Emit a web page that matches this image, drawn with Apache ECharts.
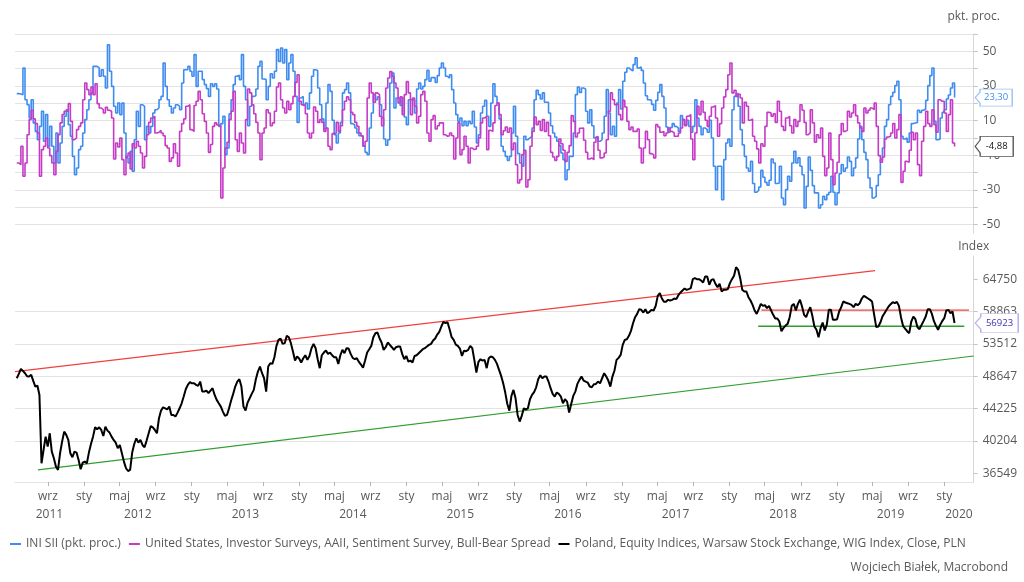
<!DOCTYPE html>
<html>
<head>
<meta charset="utf-8">
<script src="https://cdn.jsdelivr.net/npm/echarts@6/dist/echarts.min.js"></script>
<style>html,body{margin:0;padding:0;background:#fff}#chart{width:1024px;height:582px}</style>
</head>
<body>
<div id="chart"></div>
<script>
// Weekly observations starting on this date
const firstWeek = '2011-05-18';

// INI SII (pkt. proc.)
const iniSii = [
25.6,25.4,25,40.4,22.1,19.2,11.5,22.1,8.7,3.8,
-1,6.7,15.4,-1.9,13.5,-4.8,6.7,-4.8,-14.4,2.9,
-14.4,-2.9,6.7,12.5,16.3,7.7,1,-10.6,-21.2,-17.3,
-6.7,-4.8,2.9,10.6,16.3,22.1,26,41.3,41.3,40.4,
35.6,39.4,35.6,28.8,53.8,38.5,29.8,18.3,14.4,20.2,
13.5,20.2,2.9,-11.5,-14.4,-7.7,-19.2,-1,15.4,6.7,
19.2,18.3,-1,6.7,2.9,6.7,14.4,16.3,17.3,22.1,
24,43.3,29.8,22.1,18.3,14.4,17.3,19.2,18.3,16.3,
31.7,39.4,39.4,41.3,38.5,35.6,48.1,29.8,38.5,
38.5,33.7,30.8,28.5,24,31.3,29.8,31.3,28.3,6.7,
8.3,12.5,-9.6,-5.8,14,22.1,30.8,35.6,36.2,33.7,
48.1,29.8,22.1,7.1,18.3,24,24.4,28.3,41.3,44.2,
34,33.7,22.1,29.8,37.1,34.6,38.5,51,44.2,51.9,
43.3,51,33.7,43.3,48.1,38.5,24,9,23.1,24,
18.7,20.2,16.7,26,35.6,39.4,39,28.8,19.2,11,
5.2,20.2,30.8,26.9,10.2,1.9,-2.9,2.9,9,26,
27.9,31.7,26,8.3,7.5,5.8,2.9,1.3,1,-4.8,
-8.3,-9.6,5.8,14.4,25,22.1,23.7,19.2,11.5,-0.6,
-4.2,-1,31.7,37.5,17.3,23.1,22.9,18.7,23.1,12.1,
7.7,22.1,22.1,22.1,14.4,28.3,31.7,28.3,29.8,33.7,
39,32.7,34.8,34.8,32.1,36,40.4,43.3,40.4,35.6,
34.6,36.5,27.9,20.2,13.5,9.6,11.5,7.1,9.6,7.1,
9.6,8.3,15.4,6.3,-2.9,1.9,14.4,18.3,21.7,12.5,
6.7,20.2,31.3,24,20.2,11,-4.8,-7.7,-10.6,-12.9,
-10.6,2.9,
18.3,1,-9,-14.4,-16.3,1,-1,0,1,5.8,
22.1,27.5,25,22.5,26,20.6,20.6,14.4,7.1,2.9,
0.6,-1.9,-4.4,-8.7,-12.5,-24,-18.3,-10.6,-10.6,2.9,
25,29.4,26.3,28.8,28.3,15.4,8.7,16.3,7.1,0,
1,-1.9,-1,2.9,12.5,27.9,14.4,1.9,6.7,1,
20.2,27.9,16.7,32.7,37.9,40.4,39.4,38.7,42.3,46.2,
40.4,41,39,31.7,24.4,22.1,21.7,19.4,16,21.7,
26.3,30.8,24,17.3,6.3,3.3,6,8.3,6.7,5.8,
3.8,12.9,10.6,7.7,10.2,6.7,3.3,6.7,22.1,11.5,
6.7,1.9,5.8,4.8,3.3,10.2,0,-16.3,-29.8,-16.3,
-16.3,-35.6,-12.5,-2.9,-0.6,-4.8,16.3,24,25.6,18.3,
4.8,-4,-10.6,-17.3,-19.2,-13.5,-26.3,-31.3,-30.2,-28.3,
-18.7,-22.7,-25.6,-27.3,-24.4,-12.1,-14.4,-26.3,-26,-16.3,
-34.6,-38.5,-29.8,-22.1,-25,-14.4,-7.7,-14.4,-11.5,-16.3,
-21.2,-40.4,-27.9,-11,-18.7,-27.5,-31.7,-31.7,-40.4,-38.5,
-33.7,-35.6,-32.7,-31.3,-22.1,-31.3,-38.5,-31.7,-20.6,-15.4,
-19.2,-17.3,-11,-13.5,-21.7,-17.3,-11.5,-0.6,6.7,-1,
-8.3,-12.5,-23.1,-28.8,-34.6,-33.7,-27.5,-21.2,-12.5,-5.8,
6.7,10.6,19.2,24,26.3,30.2,32.7,22.1,1,-0.6,
0,-2.5,2.9,8.3,8.7,9,16,14.8,16,16.7,
21.7,30.2,36,40.4,9.6,-1,-0.6,11.5,14.8,16.3,
22.5,24.8,28.8,31.7,23.3
];

// United States, Investor Surveys, AAII, Sentiment Survey, Bull-Bear Spread
const aaii = [
-14.4,-15.4,-4.8,-22.1,-14.4,1.9,10.6,16,11,8.3,
2.9,-22.1,-6.7,-4.8,0,-5.8,-10.2,-14.4,-21.2,-7.7,
1.9,8.7,13.5,15.4,15.4,19.8,9.6,-1,0,4.8,
6.7,8.7,22.1,31.7,27.9,25,29.4,25,31.3,19.8,
17.3,16.3,14.4,17.7,16,15.4,11.5,-12.1,-2.9,-5.2,
0,-12.5,-21.2,-10.6,-8.7,-17.9,-3.3,-5.8,-1.9,-4.8,
-8.7,-17.3,-10.6,1.9,9,11.5,12.5,2.9,3.3,4.4,
2.9,1.3,-4.4,-5.8,-13.5,-11.5,-3.3,-8.7,-16.3,3.8,
8.3,11,18.3,19.2,4.8,3.8,18.7,21.2,26.9,22.1,
14,9.6,2.9,-8.3,-3.8,6.7,8.7,7.5,6.7,-34.6,
-17.3,-5.8,-2.5,10.6,15.4,26.9,-1,-7.7,2.9,-2.9,
-8.7,10.6,28.3,26,19.2,14,9,2.9,-12.5,2.9,
5.8,16.3,14.4,7.1,8.7,15.4,29.4,31.7,22.1,17.3,
14.4,21.2,16.3,19.8,24,32.1,36.5,21.2,19.2,18.7,
14,2.9,0,2.9,17.9,15.4,9,10.6,9,3.8,
5.8,-4.8,-6.7,2.5,2.9,9,3.8,7.1,16.3,21.2,
23.7,22.1,14.8,13.5,9,6.7,2.9,1.3,-4.8,-1.9,
23.1,31.7,26,20.6,26,25,12.5,7.1,16.3,28.8,
34.6,38.3,35.6,31.7,28.8,20.2,23.7,13.5,25,32.5,
26,13.5,23.1,18.3,8.7,12.5,25,26.9,21.2,2.9,
-1.9,10.6,12.9,5.2,7.1,8.7,8.7,1.9,1,1.3,
2.9,1.3,-12.1,0,8.7,-9.6,-6.7,1,-4.8,-14.4,
-5.8,-6.7,-6.3,-4.8,0,8.7,11.5,12.5,-6.7,4.4,
3.8,8.7,18.7,20.2,13.5,1.9,4.2,6.3,3.3,5.8,
-6.7,
-2.9,-15.4,-26,-24,-9.6,-7.1,-28.3,-24,-4.8,3.8,
12.1,7.7,9.6,4.4,10.6,3.8,9,1.3,-8.3,-11,
-12.9,-10.6,-0.6,-3.3,-7.1,-13.5,-8.3,-4.4,12.9,9.6,
0.6,2.9,5.6,5.8,-1.3,-8.3,-12.1,-11.5,-12.5,-2.5,
0.6,-7.1,-11.5,-11,-8.7,-1,15.4,26,22.1,19.2,
19.8,13.5,10.6,21.7,17.9,9.6,4.8,6.3,3.8,3.8,
5.2,-5.8,-14.4,-5.8,3.8,-1,-9,-9.6,-11.5,7.7,
6.3,3.3,3.8,1.3,2.9,5.8,3.8,2.9,1,1,
2.9,5.8,10.6,7.1,12.5,13.5,-0.6,-12.5,2.9,18.3,
13.5,21.2,14.8,10.2,6.7,12.5,17.9,18.7,11.5,1,
8.3,17.3,23.7,27.9,36.5,43.3,26,27.5,24,25.2,
23.1,8.7,20.6,18.3,10.2,11,1,-1.9,-6.3,-14.4,
-3.3,-4.8,6.7,14.8,14.4,12.5,14,9,21.2,15.4,
6.7,4.4,11.5,12.5,7.1,2.9,10.6,6.7,9.6,19.2,
16,9,1.9,2.9,16.3,8.7,-2.5,1.9,0,5.8,
-10.6,-21.7,-17.3,2.9,-12.5,-26.9,-20.2,-14,1.9,8.3,
3.8,4.4,15.4,12.1,14.4,19.2,12.9,8.7,5.8,3.8,
17.3,14.4,16,17.3,16.3,20.2,6.7,-10.2,-14,-11,
-0.6,0.6,1,2.9,8.3,0,4.8,13.5,-25.6,-19.2,
-13.5,-14,-7.1,3.3,-1,2.9,-15.4,-21.7,-1.9,6.7,
15.4,8.3,6.7,16.3,7.7,3.3,22.1,21.2,21.2,14.4,
3.8,13.5,22.1,-2.9,-4.88
];

// Poland, Equity Indices, Warsaw Stock Exchange, WIG Index, Close, PLN
const wig = [
48370,48990,49720,49430,49090,48660,48610,48850,47990,47200,
47340,46050,37640,39150,40720,39540,41130,38960,38200,37280,
36910,38770,40130,41330,40930,40330,38770,38320,38960,38850,
38020,36980,37720,37830,37640,38850,39850,40720,41860,41610,
41860,41530,40800,41940,41450,41210,40720,40330,40010,39350,
39730,38770,37830,37100,36800,36910,38850,39850,40520,40010,
40330,39730,39460,40250,41130,42020,41860,41530,41130,42990,
43970,44400,44270,44140,44490,43410,43410,43200,43710,44270,
44930,45830,46820,47430,47820,47660,47660,47430,47290,47900,
46500,46500,46640,46280,46640,46970,46050,45380,44930,44490,
43840,43290,43410,44270,45290,46190,47200,47900,48230,47200,
44490,43970,45020,45600,46190,46740,48230,49330,50070,49090,
48370,46500,50070,50560,50460,51460,53210,54160,54380,53530,
53640,54810,54590,53640,52330,50960,51570,51260,50660,51310,
51760,51060,51660,52850,53530,52850,51160,49830,51760,52180,
52480,51970,52180,51760,51460,51460,50460,51760,52590,52070,
52850,52800,51970,51360,51160,51310,50760,50360,49880,50960,
52180,52690,53210,54590,55240,55350,54430,53740,52590,53000,
53740,53370,53000,52590,53000,53110,53110,51970,51160,51660,
50810,50960,50660,51660,51760,52070,52380,52690,52850,53110,
53370,53530,54060,54380,55020,55460,56340,57120,56890,57060,
55900,54590,54160,53420,53210,52800,51660,52480,52380,52590,
53210,52850,51060,49190,50760,51160,50960,51060,49830,51310,
51570,51460,51060,50460,49580,48710,47660,46370,44840,43970,
45920,
46735,45600,43410,42570,43290,44270,44140,44270,45470,46050,
46420,47100,48230,48800,48370,48610,48610,47900,46970,46190,
45825,46370,46190,45825,44930,45470,45150,43710,44840,45920,
46500,47570,48135,48610,48040,47900,47760,47200,47100,47520,
47570,47900,47660,48370,49090,48610,48040,47200,48610,49480,
51060,51360,51820,53370,54160,54270,54810,55620,56890,57910,
58480,59290,59180,58710,59290,58600,58830,59180,59060,59880,
61670,62160,61190,60590,60590,60950,60830,60950,61190,61070,
61790,62280,62650,63020,62770,62900,63080,64780,64970,64780,
64780,64520,64140,65290,65290,63710,64650,64780,63890,63270,
63890,62460,62770,62770,62900,64020,64780,65420,67110,66590,
64970,62770,62460,62460,61430,60830,60050,59060,58480,59290,
60230,59880,60000,59470,59880,59060,58310,57680,57680,57170,
55570,56110,56500,56780,57910,59880,60230,59060,60230,60950,
59760,58310,57910,58890,59640,58140,56340,55790,54590,56060,
57000,55680,56610,59180,59180,57460,57460,57570,58890,59640,
60650,60470,60350,60230,60050,59640,60230,60000,60350,61190,
61670,61430,61190,60950,60590,58310,56230,56340,57000,58020,
58600,59180,59760,60170,60530,60350,60590,59880,57910,56450,
56000,55570,55240,57170,58020,57570,56230,55900,56610,57290,
58020,59290,59290,58480,57230,56450,55790,56610,57230,57740,
59060,59180,58600,58890,56923
];

// Trend lines drawn on the WIG panel: [date, index level]
const upperTrend = [['2011-05-12', 49310], ['2019-05-11', 66420]];
const lowerTrend = [['2011-07-29', 36910], ['2020-04-10', 51650]];
const rangeTop = [['2018-04-20', 59130], ['2020-03-25', 59130]];
const rangeBottom = [['2018-04-09', 56380], ['2020-03-09', 56380]];

// Axis ticks and labels
const pctTicks = [-50, -40, -30, -20, -10, 0, 10, 20, 30, 40, 50, 60];
const pctLabels = [-50, -30, -10, 10, 30, 50];
const wigTicks = [36549, 40204, 44225, 48647, 53512, 58863, 64750];
const monthNames = {0: 'sty', 4: 'maj', 8: 'wrz'};
const years = [2011, 2012, 2013, 2014, 2015, 2016, 2017, 2018, 2019, 2020];
const axisStart = '2011-05-12';
const axisEnd = '2020-04-10';

const seriesNames = [
  'INI SII (pkt. proc.)',
  'United States, Investor Surveys, AAII, Sentiment Survey, Bull-Bear Spread',
  'Poland, Equity Indices, Warsaw Stock Exchange, WIG Index, Close, PLN'
];

// ---------- build ----------
const DAY = 86400000;
function ts(s) { const p = s.split('-').map(Number); return Date.UTC(p[0], p[1] - 1, p[2]); }
const xMin = ts(axisStart), xMax = ts(axisEnd);
const t0 = ts(firstWeek);
const weeks = wig.map((_, i) => t0 + i * 7 * DAY);
const pairs = arr => arr.map((v, i) => [weeks[i], v]);
const trend = arr => arr.map(p => [ts(p[0]), p[1]]);

const monthTicks = [];
for (const y of years) for (const m of [0, 4, 8]) {
  const t = Date.UTC(y, m, 1);
  if (t >= xMin && t <= xMax) monthTicks.push(t);
}
const yearMids = years.map(y => {
  const a = Math.max(xMin, Date.UTC(y, 0, 1));
  const b = Math.min(xMax, Date.UTC(y + 1, 0, 1));
  return (a + b) / 2;
});

const font = "'Open Sans', 'Noto Sans', sans-serif";
const txt = '#595959';
const gridCol = '#e3e3e3';
const badge = 'path://M0,50 L13,18 L13,0 L100,0 L100,100 L13,100 L13,82 Z';

function badgeMark(last, w, h, border, color, fmt) {
  return {
    silent: true,
    symbol: badge,
    symbolKeepAspect: false,
    symbolSize: [w, h],
    symbolOffset: [w / 2 + 1.5, 0],
    itemStyle: {color: '#fff', borderColor: border, borderWidth: 1},
    label: {show: true, position: 'inside', offset: [w * 0.065, 0], color: color, fontSize: 9.5, fontFamily: font, formatter: fmt},
    data: [{coord: [xMax, last], value: last}]
  };
}

const lastOf = a => a[a.length - 1];
const dec = p => p.value.toFixed(2).replace('.', ',');

const xBase = {type: 'value', min: xMin, max: xMax, scale: true, splitLine: {show: false}};

const chart = echarts.init(document.getElementById('chart'), null, {renderer: 'canvas'});
chart.setOption({
  animation: false,
  textStyle: {fontFamily: font},
  title: {
    text: 'Wojciech Białek, Macrobond', right: 11, top: 557,
    textStyle: {fontSize: 12, fontWeight: 'normal', color: txt, fontFamily: font}
  },
  legend: {
    left: 5, top: 533, itemWidth: 11, itemHeight: 2, itemGap: 8, icon: 'rect',
    selectedMode: false, data: seriesNames,
    textStyle: {fontSize: 12, color: txt, fontFamily: font}
  },
  grid: [
    {left: 15, right: 50.3, top: 34, height: 199.3},
    {left: 15, right: 50.3, top: 256, height: 226}
  ],
  xAxis: [
    Object.assign({}, xBase, {gridIndex: 0,
     axisLine: {show: true, lineStyle: {color: gridCol}}, axisTick: {show: false},
     axisLabel: {show: false}}),
    Object.assign({}, xBase, {gridIndex: 1, position: 'bottom',
     axisLine: {show: true, lineStyle: {color: gridCol}},
     axisTick: {show: true, length: 4, customValues: monthTicks, lineStyle: {color: '#b5b5b5'}},
     axisLabel: {customValues: monthTicks, color: txt, fontSize: 12, margin: 9,
       formatter: v => monthNames[new Date(v).getUTCMonth()]}}),
    Object.assign({}, xBase, {gridIndex: 1, position: 'bottom', offset: 18,
     axisLine: {show: false}, axisTick: {show: false},
     axisLabel: {customValues: yearMids, color: txt, fontSize: 12, margin: 9,
       formatter: v => String(new Date(v).getUTCFullYear())}})
  ],
  yAxis: [
    {type: 'value', gridIndex: 0, position: 'right', min: -55, max: 60,
     name: 'pkt. proc.', nameLocation: 'end', nameGap: 11,
     nameTextStyle: {color: txt, fontSize: 12, fontFamily: font},
     axisLine: {show: true, lineStyle: {color: '#d6d6d6'}},
     axisTick: {show: true, length: 4, customValues: pctTicks, lineStyle: {color: '#c4c4c4'}},
     axisLabel: {customValues: pctLabels, color: txt, fontSize: 12, margin: 9},
     splitLine: {show: true, lineStyle: {color: gridCol}}},
    {type: 'log', gridIndex: 1, position: 'right', min: 35624, max: 69356,
     name: 'Index', nameLocation: 'end', nameGap: 3,
     nameTextStyle: {color: txt, fontSize: 12, fontFamily: font},
     axisLine: {show: true, lineStyle: {color: '#d6d6d6'}},
     axisTick: {show: true, length: 4, customValues: wigTicks, lineStyle: {color: '#c4c4c4'}},
     axisLabel: {customValues: wigTicks, color: txt, fontSize: 12, margin: 9,
       formatter: v => String(Math.round(v))},
     splitLine: {show: true, showMinLine: false, showMaxLine: false, lineStyle: {color: gridCol}}}
  ],
  series: [
    {name: seriesNames[0], type: 'line', xAxisIndex: 0, yAxisIndex: 0, step: 'end',
     symbol: 'none', color: '#3f8cf0', lineStyle: {width: 1.6, color: '#3f8cf0'},
     data: pairs(iniSii), z: 3,
     markPoint: badgeMark(lastOf(iniSii), 37, 17, '#9cc2f5', '#3f8cf0', dec)},
    {name: seriesNames[1], type: 'line', xAxisIndex: 0, yAxisIndex: 0, step: 'end',
     symbol: 'none', color: '#c53bc6', lineStyle: {width: 1.6, color: '#c53bc6'},
     data: pairs(aaii), z: 4,
     markPoint: badgeMark(lastOf(aaii), 38, 20, '#555555', '#111111', dec)},
    {name: 'upper', type: 'line', xAxisIndex: 1, yAxisIndex: 1, symbol: 'none', silent: true,
     lineStyle: {width: 1.2, color: '#f2403c'}, data: trend(upperTrend), z: 2},
    {name: 'lower', type: 'line', xAxisIndex: 1, yAxisIndex: 1, symbol: 'none', silent: true,
     lineStyle: {width: 1.2, color: '#2f9e2f'}, data: trend(lowerTrend), z: 2},
    {name: 'rangeTop', type: 'line', xAxisIndex: 1, yAxisIndex: 1, symbol: 'none', silent: true,
     lineStyle: {width: 1.4, color: '#f2403c'}, data: trend(rangeTop), z: 2},
    {name: 'rangeBottom', type: 'line', xAxisIndex: 1, yAxisIndex: 1, symbol: 'none', silent: true,
     lineStyle: {width: 1.4, color: '#2f9e2f'}, data: trend(rangeBottom), z: 2},
    {name: seriesNames[2], type: 'line', xAxisIndex: 1, yAxisIndex: 1,
     symbol: 'none', color: '#000000', lineStyle: {width: 2, color: '#000000'},
     data: pairs(wig), z: 5,
     markPoint: badgeMark(lastOf(wig), 43, 19, '#b8aeea', '#3a2fb5', p => String(p.value))}
  ]
});
</script>
</body>
</html>
